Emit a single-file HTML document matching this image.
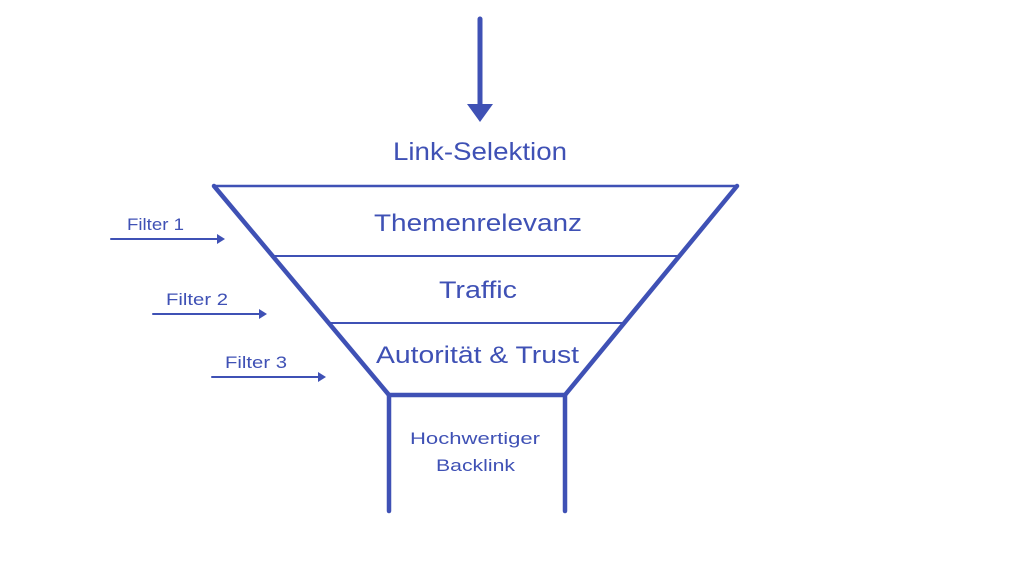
<!DOCTYPE html>
<html><head><meta charset="utf-8"><style>
html,body{margin:0;padding:0;background:#fff;width:1024px;height:576px;overflow:hidden}
svg text{font-family:"Liberation Sans",sans-serif;fill:#3f51b5}
</style></head><body>
<svg width="1024" height="576" viewBox="0 0 1024 576" xmlns="http://www.w3.org/2000/svg">
<g stroke="#3f51b5" fill="none" stroke-linecap="round" stroke-linejoin="round">
<line x1="480" y1="19" x2="480" y2="106" stroke-width="5"/>
<line x1="214" y1="186" x2="737" y2="186" stroke-width="2.5"/>
<line x1="214" y1="186" x2="389" y2="395" stroke-width="4.5"/>
<line x1="737" y1="186" x2="565" y2="395" stroke-width="4.5"/>
<line x1="274" y1="256" x2="678" y2="256" stroke-width="2"/>
<line x1="331" y1="323" x2="622" y2="323" stroke-width="2"/>
<line x1="389" y1="395" x2="565" y2="395" stroke-width="4.5"/>
<line x1="389" y1="395" x2="389" y2="511" stroke-width="4.5"/>
<line x1="565" y1="395" x2="565" y2="511" stroke-width="4.5"/>
<line x1="111" y1="239" x2="218" y2="239" stroke-width="2"/>
<line x1="153" y1="314" x2="260" y2="314" stroke-width="2"/>
<line x1="212" y1="377" x2="319" y2="377" stroke-width="2"/>
</g>
<g fill="#3f51b5">
<polygon points="467,104 493,104 480,122"/>
<polygon points="217,234 225,239 217,244"/>
<polygon points="259,309 267,314 259,319"/>
<polygon points="318,372 326,377 318,382"/>
</g>
<text x="393" y="160" font-size="25" textLength="174" lengthAdjust="spacingAndGlyphs">Link-Selektion</text>
<text x="374" y="231" font-size="24" textLength="208" lengthAdjust="spacingAndGlyphs">Themenrelevanz</text>
<text x="439" y="298" font-size="24" textLength="78" lengthAdjust="spacingAndGlyphs">Traffic</text>
<text x="376" y="363" font-size="24" textLength="203" lengthAdjust="spacingAndGlyphs">Autorität &amp; Trust</text>
<text x="410" y="444" font-size="17" textLength="130" lengthAdjust="spacingAndGlyphs">Hochwertiger</text>
<text x="436" y="471" font-size="17" textLength="79" lengthAdjust="spacingAndGlyphs">Backlink</text>
<text x="127" y="230" font-size="17" textLength="57" lengthAdjust="spacingAndGlyphs">Filter 1</text>
<text x="166" y="305" font-size="17" textLength="62" lengthAdjust="spacingAndGlyphs">Filter 2</text>
<text x="225" y="368" font-size="17" textLength="62" lengthAdjust="spacingAndGlyphs">Filter 3</text>
</svg>
</body></html>
